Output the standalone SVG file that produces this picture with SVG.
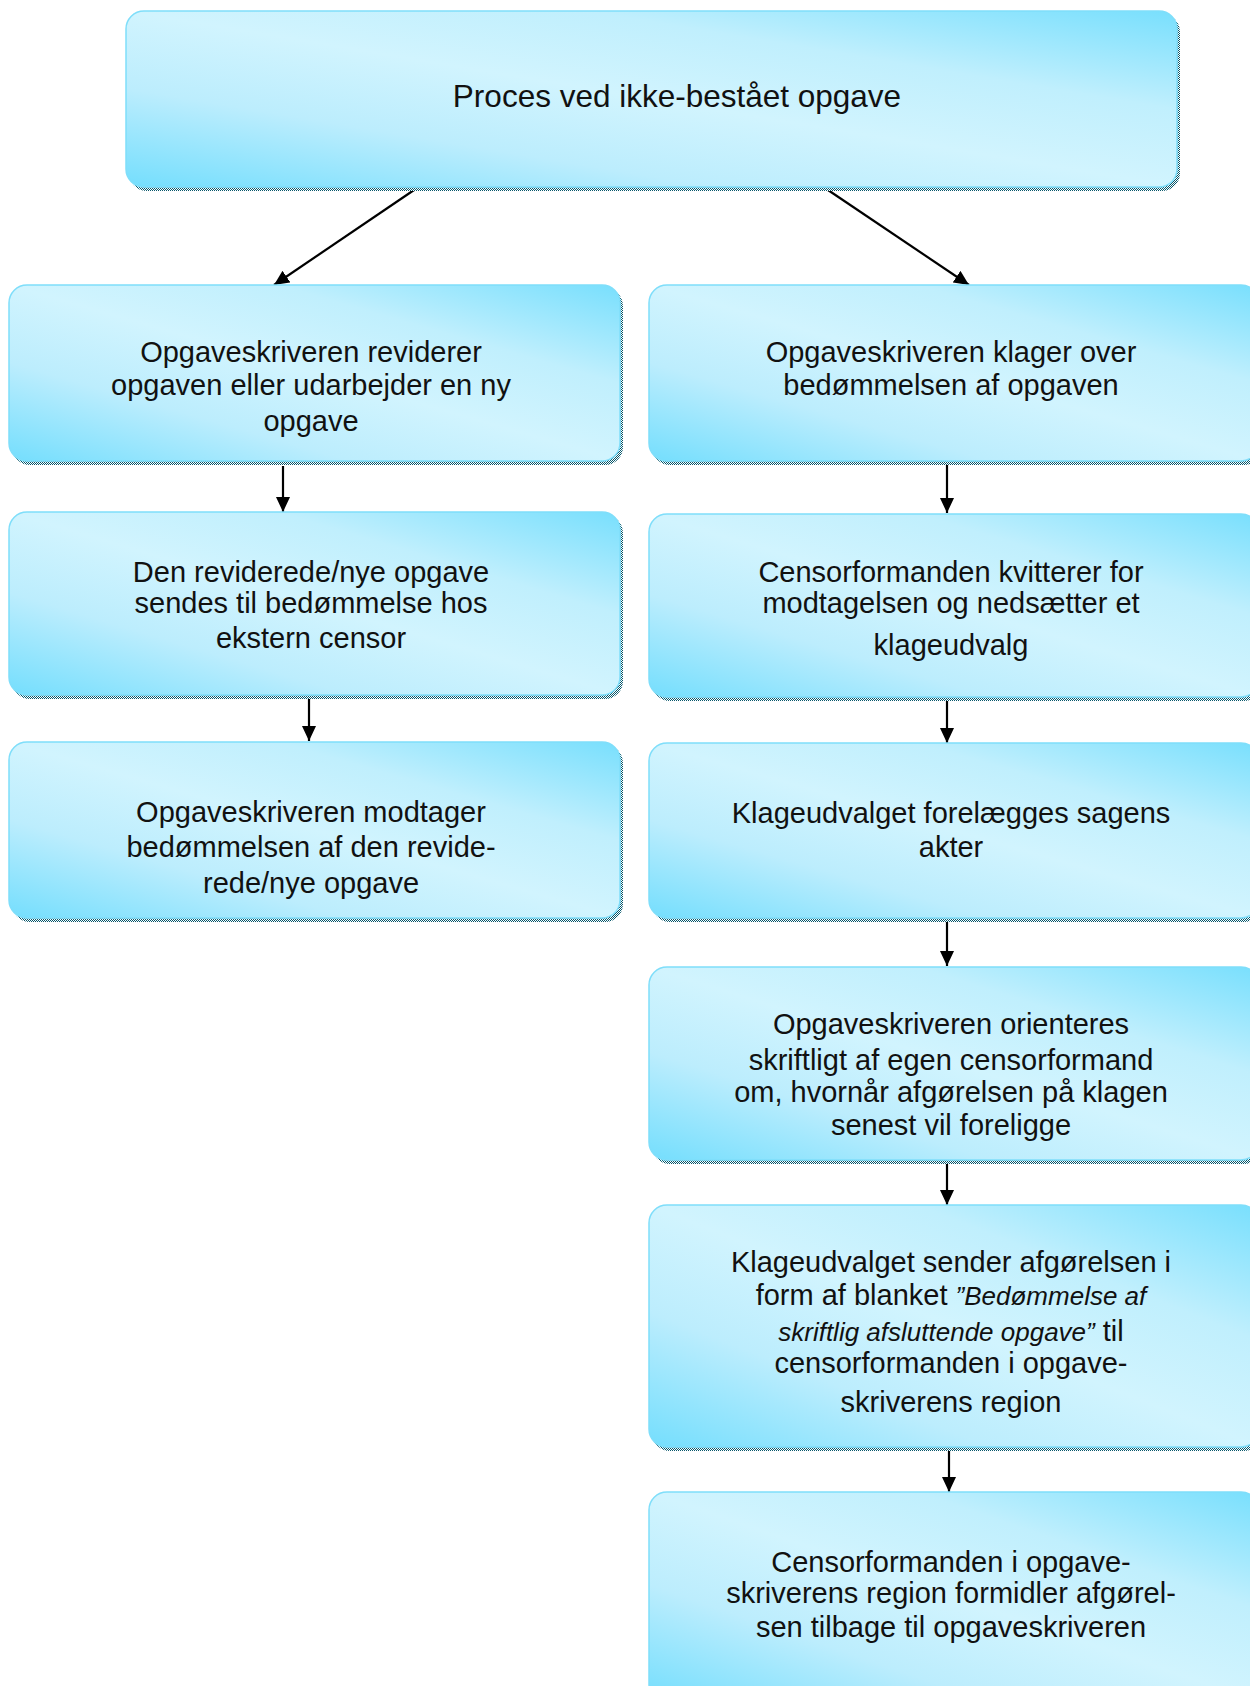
<svg xmlns="http://www.w3.org/2000/svg" width="1250" height="1686" viewBox="0 0 1250 1686">
<style>
.box{fill:url(#g);stroke:#7fdefa;stroke-width:1.5}
.sh{fill:url(#chk)}
text{font-family:"Liberation Sans",Arial,sans-serif;font-size:29px;fill:#111;text-anchor:middle}
.title{font-size:31.5px}
.it{font-style:italic;font-size:26px}
.conn line{stroke:#000;stroke-width:2.2;marker-end:url(#ah)}
</style>
<defs>
<linearGradient id="g" x1="0" y1="1" x2="1" y2="0">
<stop offset="0" stop-color="#74defd"/>
<stop offset="0.28" stop-color="#bcedfd"/>
<stop offset="0.5" stop-color="#d1f4fe"/>
<stop offset="0.72" stop-color="#c0effd"/>
<stop offset="1" stop-color="#78dffd"/>
</linearGradient>
<pattern id="chk" width="2" height="2" patternUnits="userSpaceOnUse">
<rect width="2" height="2" fill="#ffffff"/>
<rect width="1" height="1" fill="#06566a"/>
<rect x="1" y="1" width="1" height="1" fill="#06566a"/>
</pattern>
<marker id="ah" viewBox="0 0 15 14" refX="15" refY="7" markerWidth="15" markerHeight="14" markerUnits="userSpaceOnUse" orient="auto">
<path d="M0,0 L15,7 L0,14 Z" fill="#000"/>
</marker>
</defs>
<rect width="1250" height="1686" fill="#fff"/>

<g class="conn" id="connectors">
<line x1="417" y1="188" x2="274" y2="285"/>
<line x1="825" y1="188" x2="969" y2="285"/>
<line x1="283" y1="466" x2="283" y2="512"/>
<line x1="309" y1="694" x2="309" y2="741"/>
<line x1="947" y1="465" x2="947" y2="513"/>
<line x1="947" y1="698" x2="947" y2="743"/>
<line x1="947" y1="920" x2="947" y2="966"/>
<line x1="947" y1="1162" x2="947" y2="1205"/>
<line x1="949" y1="1449" x2="949" y2="1492"/>
</g>

<g id="n0">
<rect class="sh" x="129" y="14" width="1051" height="177" rx="18"/>
<rect class="box" x="126" y="11" width="1051" height="176" rx="18"/>
<text class="title" x="677" y="107">Proces ved ikke-bestået opgave</text>
</g>

<g id="l1">
<rect class="sh" x="12" y="288" width="611" height="177" rx="18"/>
<rect class="box" x="9" y="285" width="611" height="176" rx="18"/>
<text x="311" y="362">Opgaveskriveren reviderer</text>
<text x="311" y="395">opgaven eller udarbejder en ny</text>
<text x="311" y="431">opgave</text>
</g>

<g id="l2">
<rect class="sh" x="12" y="515" width="611" height="184" rx="18"/>
<rect class="box" x="9" y="512" width="611" height="183" rx="18"/>
<text x="311" y="582">Den reviderede/nye opgave</text>
<text x="311" y="613">sendes til bedømmelse hos</text>
<text x="311" y="648">ekstern censor</text>
</g>

<g id="l3">
<rect class="sh" x="12" y="745" width="611" height="177" rx="18"/>
<rect class="box" x="9" y="742" width="611" height="176" rx="18"/>
<text x="311" y="822">Opgaveskriveren modtager</text>
<text x="311" y="857">bedømmelsen af den revide-</text>
<text x="311" y="893">rede/nye opgave</text>
</g>

<g id="r1">
<rect class="sh" x="652" y="288" width="610" height="177" rx="18"/>
<rect class="box" x="649" y="285" width="610" height="176" rx="18"/>
<text x="951" y="362">Opgaveskriveren klager over</text>
<text x="951" y="395">bedømmelsen af opgaven</text>
</g>

<g id="r2">
<rect class="sh" x="652" y="517" width="610" height="184" rx="18"/>
<rect class="box" x="649" y="514" width="610" height="183" rx="18"/>
<text x="951" y="582">Censorformanden kvitterer for</text>
<text x="951" y="613">modtagelsen og nedsætter et</text>
<text x="951" y="655">klageudvalg</text>
</g>

<g id="r3">
<rect class="sh" x="652" y="746" width="610" height="176" rx="18"/>
<rect class="box" x="649" y="743" width="610" height="175" rx="18"/>
<text x="951" y="823">Klageudvalget forelægges sagens</text>
<text x="951" y="857">akter</text>
</g>

<g id="r4">
<rect class="sh" x="652" y="970" width="610" height="194" rx="18"/>
<rect class="box" x="649" y="967" width="610" height="193" rx="18"/>
<text x="951" y="1034">Opgaveskriveren orienteres</text>
<text x="951" y="1070">skriftligt af egen censorformand</text>
<text x="951" y="1102">om, hvornår afgørelsen på klagen</text>
<text x="951" y="1135">senest vil foreligge</text>
</g>

<g id="r5">
<rect class="sh" x="652" y="1208" width="610" height="243" rx="18"/>
<rect class="box" x="649" y="1205" width="610" height="242" rx="18"/>
<text x="951" y="1272">Klageudvalget sender afgørelsen i</text>
<text x="951" y="1305">form af blanket <tspan class="it">”Bedømmelse af</tspan></text>
<text x="951" y="1341"><tspan class="it">skriftlig afsluttende opgave”</tspan> til</text>
<text x="951" y="1373">censorformanden i opgave-</text>
<text x="951" y="1412">skriverens region</text>
</g>

<g id="r6">
<rect class="sh" x="652" y="1495" width="610" height="210" rx="18"/>
<rect class="box" x="649" y="1492" width="610" height="210" rx="18"/>
<text x="951" y="1572">Censorformanden i opgave-</text>
<text x="951" y="1603">skriverens region formidler afgørel-</text>
<text x="951" y="1637">sen tilbage til opgaveskriveren</text>
</g>
</svg>
